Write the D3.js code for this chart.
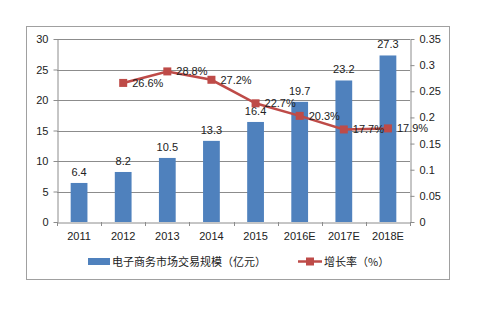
<!DOCTYPE html>
<html><head><meta charset="utf-8">
<script src="https://cdn.jsdelivr.net/npm/d3@7/dist/d3.min.js"></script>
<style>body{margin:0;background:#fff}svg{display:block}</style>
</head><body><svg id="c" width="499" height="331"></svg>
<script>
const categories = ["2011","2012","2013","2014","2015","2016E","2017E","2018E"];
const barValues = [6.4, 8.2, 10.5, 13.3, 16.4, 19.7, 23.2, 27.3];
const rateValues = [null, 0.266, 0.288, 0.272, 0.227, 0.203, 0.177, 0.179];
const rateLabels = [null, "26.6%", "28.8%", "27.2%", "22.7%", "20.3%", "17.7%", "17.9%"];
const leftTicks = [0,5,10,15,20,25,30];
const rightTicks = [0,0.05,0.1,0.15,0.2,0.25,0.3,0.35];
const barName = "电子商务市场交易规模（亿元）";
const lineName = "增长率（%）";

const svg = d3.select("#c");
const L = 57, R = 410, T = 39, B = 222;
const font = "'Liberation Sans', Arial, sans-serif";
const cjk = "'Noto Sans CJK SC', sans-serif";
const barColor = "#4F81BD", lineColor = "#BE4B48", gridColor = "#8c8c8c";

svg.append("rect").attr("x",26.5).attr("y",26.5).attr("width",423).attr("height",253)
  .attr("fill","#fff").attr("stroke","#a0a0a0").attr("stroke-width",1);

const x = d3.scaleBand().domain(categories).range([L,R]).paddingInner(0.62).paddingOuter(0.31);
const xo = d3.scaleBand().domain(categories).range([L,R]);
const yL = d3.scaleLinear().domain([0,30]).range([B,T]);
const yR = d3.scaleLinear().domain([0,0.35]).range([B,T]);

// grid
svg.append("g").selectAll("line").data(leftTicks.filter(d=>d>0)).join("line")
  .attr("x1",L).attr("x2",R).attr("y1",d=>Math.round(yL(d))+0.5).attr("y2",d=>Math.round(yL(d))+0.5)
  .attr("stroke",gridColor).attr("stroke-width",1);

// bars
svg.append("g").selectAll("rect").data(barValues).join("rect")
  .attr("x",(d,i)=>x(categories[i])).attr("width",x.bandwidth())
  .attr("y",d=>yL(d)).attr("height",d=>B-yL(d)).attr("fill",barColor);

svg.append("g").selectAll("text").data(barValues).join("text")
  .attr("x",(d,i)=>x(categories[i])+x.bandwidth()/2).attr("y",d=>yL(d)-7)
  .attr("text-anchor","middle").attr("font-family",font).attr("font-size",11).attr("fill","#222")
  .text(d=>d.toFixed(1));

// axes
const axL = svg.append("g").attr("transform",`translate(${L+0.5},0)`)
  .call(d3.axisLeft(yL).tickValues(leftTicks).tickSize(4).tickSizeOuter(0).tickPadding(5));
const axR = svg.append("g").attr("transform",`translate(${R+0.5},0)`)
  .call(d3.axisRight(yR).tickValues(rightTicks).tickSize(4).tickSizeOuter(0).tickPadding(5).tickFormat(d=>String(+d.toFixed(2))));
const axB = svg.append("g").attr("transform",`translate(0,${B+0.5})`)
  .call(d3.axisBottom(xo).tickSize(0).tickPadding(10));
// category boundary ticks
svg.append("g").selectAll("line").data(d3.range(categories.length+1)).join("line")
  .attr("x1",i=>Math.round(L+i*xo.step())+0.5).attr("x2",i=>Math.round(L+i*xo.step())+0.5)
  .attr("y1",B).attr("y2",B+4).attr("stroke",gridColor);
[axL,axR,axB].forEach(a=>{
  a.selectAll("path").attr("stroke",gridColor);
  a.selectAll("line").attr("stroke",gridColor);
  a.selectAll("text").attr("font-family",font).attr("font-size",11).attr("fill","#222");
});

// line
const pts = rateValues.map((v,i)=>({v,i})).filter(d=>d.v!=null);
const line = d3.line().x(d=>xo(categories[d.i])+xo.bandwidth()/2).y(d=>yR(d.v));
svg.append("path").datum(pts).attr("d",line).attr("fill","none").attr("stroke",lineColor).attr("stroke-width",2.5);
svg.append("g").selectAll("rect").data(pts).join("rect")
  .attr("x",d=>xo(categories[d.i])+xo.bandwidth()/2-4).attr("y",d=>yR(d.v)-4)
  .attr("width",8).attr("height",8).attr("fill",lineColor);
svg.append("g").selectAll("text").data(pts).join("text")
  .attr("x",d=>xo(categories[d.i])+xo.bandwidth()/2+9).attr("y",d=>yR(d.v)+4)
  .attr("font-family",font).attr("font-size",11).attr("fill","#222")
  .text(d=>rateLabels[d.i]);

// legend
const lg = svg.append("g");
lg.append("rect").attr("x",88).attr("y",258).attr("width",22).attr("height",7).attr("fill",barColor);
lg.append("text").attr("x",112).attr("y",266).attr("font-family",cjk).attr("font-size",11).attr("fill","#222").text(barName);
lg.append("line").attr("x1",298).attr("x2",322).attr("y1",261.5).attr("y2",261.5).attr("stroke",lineColor).attr("stroke-width",2.5);
lg.append("rect").attr("x",306).attr("y",257.5).attr("width",8).attr("height",8).attr("fill",lineColor);
lg.append("text").attr("x",324).attr("y",266).attr("font-family",cjk).attr("font-size",11).attr("fill","#222").text(lineName);
</script></body></html>
